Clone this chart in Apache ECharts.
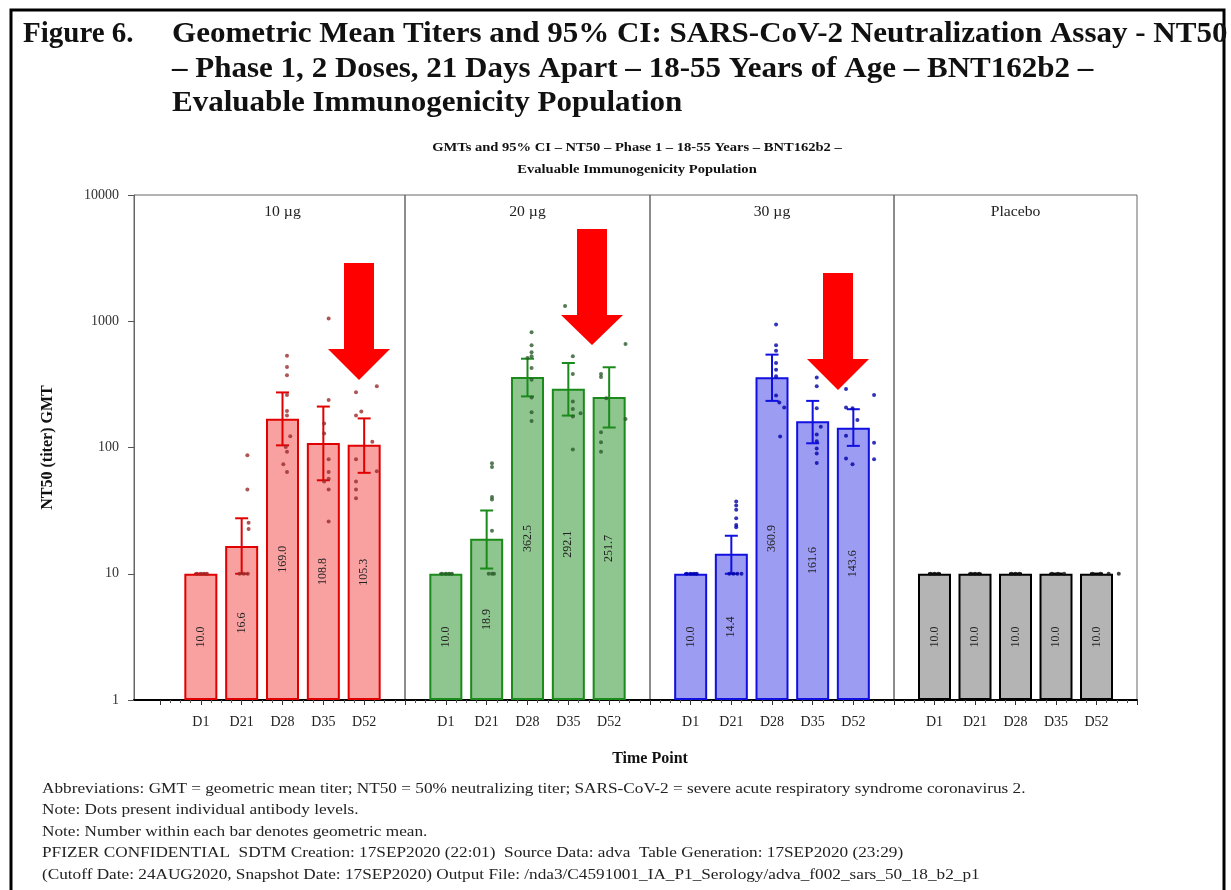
<!DOCTYPE html>
<html><head><meta charset="utf-8">
<script src="https://cdn.jsdelivr.net/npm/echarts@6/dist/echarts.min.js"></script>
<style>html,body{margin:0;padding:0;background:#fff}#c{width:1231px;height:890px}</style>
</head><body><div id="c"></div>
<script>
// ---------------- DATA ----------------
const timePoints = ['D1', 'D21', 'D28', 'D35', 'D52'];
const doseGroups = ['10 µg', '20 µg', '30 µg', 'Placebo'];
const yTickLabels = ['1', '10', '100', '1000', '10000'];

const gmt10 = [10.0, 16.6, 169.0, 108.8, 105.3];
const gmt20 = [10.0, 18.9, 362.5, 292.1, 251.7];
const gmt30 = [10.0, 14.4, 360.9, 161.6, 143.6];
const gmtPlacebo = [10.0, 10.0, 10.0, 10.0, 10.0];

const ciLow10 = [10, 10.0, 104, 55, 63];
const ciHigh10 = [10, 27.5, 273, 211, 170];
const ciLow20 = [10, 11.0, 254, 179, 144];
const ciHigh20 = [10, 31.7, 505, 467, 432];
const ciLow30 = [10, 10.0, 234, 108, 103];
const ciHigh30 = [10, 20.0, 544, 234, 201];
const ciLowPlacebo = [10, 10, 10, 10, 10];
const ciHighPlacebo = [10, 10, 10, 10, 10];

// individual titers: [time point index, horizontal jitter (category units), titer]
const dots10 = [
  [0,-0.10,10],[0,0.0,10],[0,0.08,10],[0,0.15,10],
  [1,0.14,87],[1,0.14,46.5],[1,0.17,25.3],[1,0.17,22.6],[1,-0.05,10],[1,0.05,10],[1,0.15,10],
  [2,0.11,534],[2,0.11,434],[2,0.11,373],[2,0.11,261],[2,0.11,195],[2,0.11,179],[2,0.19,123],[2,0.08,101],[2,0.11,92.4],[2,0.02,73.6],[2,0.11,64],
  [3,0.13,1052],[3,0.13,238],[3,0.02,155],[3,0.02,129],[3,0.13,80.7],[3,0.13,64],[3,0.13,56.6],[3,0.02,53.9],[3,0.13,46.5],[3,0.13,25.9],
  [4,-0.20,274],[4,0.31,305],[4,-0.07,193],[4,-0.20,179],[4,0.20,111],[4,-0.20,80.7],[4,0.31,64.7],[4,-0.20,53.9],[4,-0.20,46.5],[4,-0.20,39.7]
];
const dots20 = [
  [0,-0.10,10],[0,0.0,10],[0,0.08,10],[0,0.15,10],
  [1,0.13,75],[1,0.13,70],[1,0.13,40.5],[1,0.13,38.7],[1,0.13,21.9],[1,0.05,10],[1,0.13,10],[1,0.18,10],
  [2,0.10,820],[2,0.10,646],[2,0.10,569],[2,0.10,529],[2,0.0,512],[2,0.10,426],[2,0.10,344],[2,0.10,249],[2,0.10,190],[2,0.10,162],
  [3,-0.08,1322],[3,0.11,529],[3,0.11,382],[3,0.11,231],[3,0.11,202],[3,0.30,187],[3,0.11,176],[3,0.11,96.4],
  [4,0.40,661],[4,-0.20,382],[4,-0.20,361],[4,-0.07,246],[4,0.40,168],[4,-0.20,132],[4,-0.20,110],[4,-0.20,92.4]
];
const dots30 = [
  [0,-0.10,10],[0,0.0,10],[0,0.08,10],[0,0.15,10],
  [1,0.12,37.3],[1,0.12,34.7],[1,0.12,32.1],[1,0.12,27.5],[1,0.12,24.3],[1,0.12,23.3],[1,-0.05,10],[1,0.05,10],[1,0.15,10],[1,0.25,10],
  [2,0.10,943],[2,0.10,646],[2,0.10,585],[2,0.10,467],[2,0.10,413],[2,0.10,366],[2,0.10,258],[2,0.18,227],[2,0.30,207],[2,0.20,122],
  [3,0.10,359],[3,0.10,305],[3,0.10,205],[3,0.20,146],[3,0.10,127],[3,0.10,112],[3,0.10,98.2],[3,0.10,89.6],[3,0.10,75.5],
  [4,-0.18,291],[4,0.51,261],[4,-0.18,207],[4,-0.02,205],[4,0.10,165],[4,-0.18,124],[4,0.51,109],[4,-0.18,81.7],[4,-0.02,73.6],[4,0.51,80.7]
];
const dotsPlacebo = [
  [0,-0.10,10],[0,0.0,10],[0,0.10,10],
  [1,-0.10,10],[1,0.0,10],[1,0.10,10],
  [2,-0.10,10],[2,0.0,10],[2,0.10,10],
  [3,-0.10,10],[3,0.05,10],[3,0.20,10],
  [4,-0.10,10],[4,0.10,10],[4,0.30,10],[4,0.55,10]
];

const footnotes = [
  'Abbreviations: GMT = geometric mean titer; NT50 = 50% neutralizing titer; SARS-CoV-2 = severe acute respiratory syndrome coronavirus 2.',
  'Note: Dots present individual antibody levels.',
  'Note: Number within each bar denotes geometric mean.',
  'PFIZER CONFIDENTIAL  SDTM Creation: 17SEP2020 (22:01)  Source Data: adva  Table Generation: 17SEP2020 (23:29)',
  '(Cutoff Date: 24AUG2020, Snapshot Date: 17SEP2020) Output File: /nda3/C4591001_IA_P1_Serology/adva_f002_sars_50_18_b2_p1'
];
const figTitleLabel = 'Figure 6.';
const figTitleLines = [
  'Geometric Mean Titers and 95% CI: SARS-CoV-2 Neutralization Assay - NT50',
  '– Phase 1, 2 Doses, 21 Days Apart – 18-55 Years of Age – BNT162b2 –',
  'Evaluable Immunogenicity Population'
];
const chartTitleLines = [
  'GMTs and 95% CI – NT50 – Phase 1 – 18-55 Years – BNT162b2 –',
  'Evaluable Immunogenicity Population'
];
const yAxisTitle = 'NT50 (titer) GMT';
const xAxisTitle = 'Time Point';

// ---------------- STYLE / LAYOUT ----------------
const SERIF = "'Liberation Serif','Times New Roman',serif";
const groups = [
  {gmt: gmt10, lo: ciLow10, hi: ciHigh10, dots: dots10, fill: '#F9A0A0', stroke: '#E00000', dot: '#9A2A2A'},
  {gmt: gmt20, lo: ciLow20, hi: ciHigh20, dots: dots20, fill: '#8FC68F', stroke: '#1A8A1A', dot: '#2A5A2A'},
  {gmt: gmt30, lo: ciLow30, hi: ciHigh30, dots: dots30, fill: '#9C9CF2', stroke: '#1010E0', dot: '#0000A8'},
  {gmt: gmtPlacebo, lo: ciLowPlacebo, hi: ciHighPlacebo, dots: dotsPlacebo, fill: '#B4B4B4', stroke: '#000000', dot: '#111111'}
];
const TOP = 195, BOTTOM = 700, H = 890;
const panelLeft = [160, 405, 650, 894];
const panelRight = [405, 650, 894, 1137];
const frameColor = '#666';

const grids = [{left: 134, right: 1231 - 405, top: TOP, bottom: H - BOTTOM, show: true, borderColor: frameColor, borderWidth: 1}];
const xAxes = [{gridIndex: 0, type: 'value', min: 0, max: 1, axisLine: {lineStyle: {color: '#000', width: 2}}, axisTick: {show: false}, axisLabel: {show: false}, splitLine: {show: false}}];
const yAxes = [{
  gridIndex: 0, type: 'log', logBase: 10, min: 1, max: 10000,
  axisLine: {show: true, lineStyle: {color: frameColor}},
  axisTick: {show: true, length: 6, lineStyle: {color: '#555'}},
  axisLabel: {fontFamily: SERIF, fontSize: 14, color: '#333', margin: 15,
    formatter: v => yTickLabels[Math.round(Math.log10(v))]},
  splitLine: {show: false},
  name: yAxisTitle, nameLocation: 'middle', nameRotate: 90, nameGap: 78,
  nameTextStyle: {fontFamily: SERIF, fontWeight: 'bold', fontSize: 16, color: '#111'}
}];
const series = [];
const graphics = [];

groups.forEach((g, p) => {
  const gi = p + 1;
  grids.push({left: panelLeft[p], right: 1231 - panelRight[p], top: TOP, bottom: H - BOTTOM,
    show: p > 0, borderColor: frameColor, borderWidth: 1});
  xAxes.push({gridIndex: gi, type: 'value', min: 0, max: 6, interval: 1,
    axisLine: {lineStyle: {color: '#000', width: 2}},
    axisTick: {show: true, length: 5, lineStyle: {color: '#333'}},
    minorTick: {show: true, splitNumber: 4, length: 3, lineStyle: {color: '#555'}},
    axisLabel: {fontFamily: SERIF, fontSize: 14, color: '#222', margin: 15,
      formatter: v => timePoints[v - 1] || ''},
    splitLine: {show: false}});
  yAxes.push({gridIndex: gi, type: 'log', logBase: 10, min: 1, max: 10000, show: false, splitLine: {show: false}});

  series.push({
    type: 'bar', xAxisIndex: gi, yAxisIndex: gi, barWidth: 33, z: 2,
    data: g.gmt.map((v, i) => [i + 1, v]),
    itemStyle: {color: g.fill, borderColor: g.stroke, borderWidth: 2},
    label: {show: true, position: 'inside', rotate: 90, fontFamily: SERIF, fontSize: 12, color: '#222',
      formatter: prm => prm.value[1].toFixed(1)}
  });
  series.push({
    type: 'custom', xAxisIndex: gi, yAxisIndex: gi, z: 3,
    data: g.gmt.map((v, i) => [i + 1, g.lo[i], g.hi[i]]),
    encode: {x: 0, y: [1, 2]},
    renderItem: (params, api) => {
      const x = api.value(0);
      const a = api.coord([x, api.value(1)]);
      const b = api.coord([x, api.value(2)]);
      const hw = 6.5;
      const st = {stroke: g.stroke, lineWidth: 2};
      return {type: 'group', children: [
        {type: 'line', shape: {x1: a[0], y1: a[1], x2: b[0], y2: b[1]}, style: st},
        {type: 'line', shape: {x1: a[0] - hw, y1: a[1], x2: a[0] + hw, y2: a[1]}, style: st},
        {type: 'line', shape: {x1: b[0] - hw, y1: b[1], x2: b[0] + hw, y2: b[1]}, style: st}
      ]};
    }
  });
  series.push({
    type: 'scatter', xAxisIndex: gi, yAxisIndex: gi, z: 4, symbol: 'circle', symbolSize: 4,
    data: g.dots.map(d => [d[0] + 1 + d[1], d[2]]),
    itemStyle: {color: g.dot}
  });
  graphics.push({type: 'text', x: (panelLeft[p] + panelRight[p]) / 2, y: 212, scaleX: 1.12,
    style: {text: doseGroups[p], font: '14px ' + SERIF, fill: '#222', align: 'center', verticalAlign: 'middle'}});
});

// outer border
graphics.push({type: 'rect', shape: {x: 11, y: 10, width: 1213, height: 900}, style: {fill: 'none', stroke: '#000', lineWidth: 3}});
// figure title
graphics.push({type: 'text', x: 23, y: 35, style: {text: figTitleLabel, font: 'bold 29px ' + SERIF, fill: '#111', verticalAlign: 'middle'}});
[35, 70, 104].forEach((yy, i) => graphics.push({type: 'text', x: 172, y: yy, scaleX: 1.07,
  style: {text: figTitleLines[i], font: 'bold 29px ' + SERIF, fill: '#111', verticalAlign: 'middle'}}));
// chart title
[148, 170].forEach((yy, i) => graphics.push({type: 'text', x: 637, y: yy, scaleX: 1.12,
  style: {text: chartTitleLines[i], font: 'bold 13px ' + SERIF, fill: '#111', align: 'center', verticalAlign: 'middle'}}));
// x axis title
graphics.push({type: 'text', x: 650, y: 759, style: {text: xAxisTitle, font: 'bold 16px ' + SERIF, fill: '#111', align: 'center', verticalAlign: 'middle'}});
// footnotes
[789, 810, 832, 853, 875].forEach((yy, i) => graphics.push({type: 'text', x: 42, y: yy, scaleX: 1.23,
  style: {text: footnotes[i], font: '14px ' + SERIF, fill: '#222', verticalAlign: 'middle'}}));
// red annotation arrows
function arrow(xc, yTop, yHead, yTip) {
  const s = 15, h = 31;
  return {type: 'polygon', z: 100, shape: {points: [
    [xc - s, yTop], [xc + s, yTop], [xc + s, yHead], [xc + h, yHead], [xc, yTip],
    [xc - h, yHead], [xc - s, yHead]]}, style: {fill: '#FF0000'}};
}
graphics.push(arrow(359, 263, 349, 380));
graphics.push(arrow(592, 229, 315, 345));
graphics.push(arrow(838, 273, 359, 390));

const chart = echarts.init(document.getElementById('c'), null, {renderer: 'canvas'});
chart.setOption({
  animation: false,
  backgroundColor: '#fff',
  grid: grids, xAxis: xAxes, yAxis: yAxes, series: series, graphic: graphics
});
</script></body></html>
